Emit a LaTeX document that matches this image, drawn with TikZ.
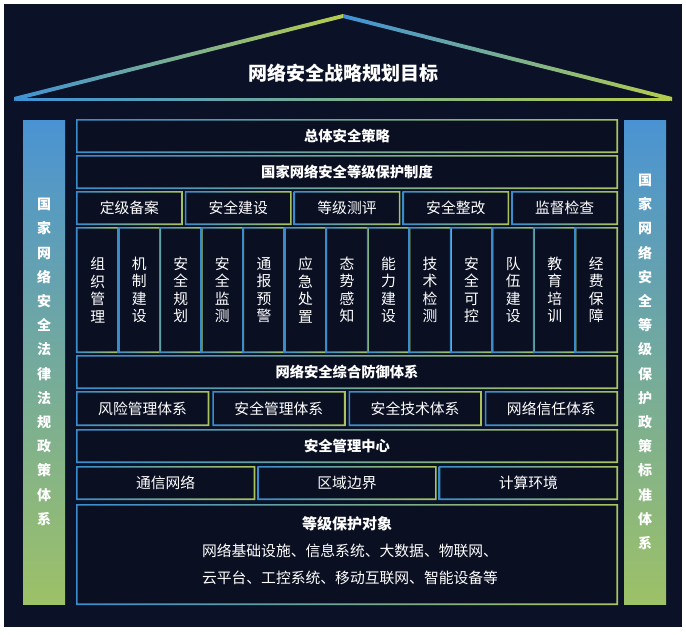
\documentclass[tikz,border=0pt]{standalone}
\usepackage{fontspec}
\setmainfont{Noto Sans CJK SC}
\definecolor{bg}{HTML}{0B1126}
\definecolor{boxfill}{HTML}{0A0F22}
\definecolor{bblue}{HTML}{3A8CCB}
\definecolor{bgreen}{HTML}{A8C35E}
\definecolor{ptop}{HTML}{4A93D3}
\definecolor{pbot}{HTML}{9DC167}
\definecolor{roofblue}{HTML}{3F92D6}
\definecolor{roofgreen}{HTML}{B5CC4C}
\newcommand\gring[1]{\shade[even odd rule,left color=bblue,right color=bgreen]
  ([shift={(-0.8pt,0.8pt)}]#1.north west) rectangle ([shift={(0.8pt,-0.8pt)}]#1.south east)
  ([shift={(0.8pt,-0.8pt)}]#1.north west) rectangle ([shift={(-0.8pt,0.8pt)}]#1.south east);}
\newcommand\bx[7]{\node[#1, minimum width={(#5)-(#3)}, minimum height={(#6)-(#4)}] (#2) at ({((#3)+(#5))/2},{((#4)+(#6))/2}) {#7};}
\begin{document}
\begin{tikzpicture}[x=1pt,y=-1pt,
  cell/.style={rectangle, inner sep=0pt, fill=boxfill, text=white, align=center,
    font=\fontsize{14.8}{17.5}\selectfont},
  headcell/.style={cell, font=\bfseries\fontsize{14.3}{17}\selectfont},
  pillar/.style={rectangle, inner sep=0pt, top color=ptop, bottom color=pbot,
    minimum width=42pt, minimum height=484pt, text=white, align=center,
    font=\bfseries\fontsize{14}{24.2}\selectfont},
  txt/.style={text=white, inner sep=0pt, align=center}]
\useasboundingbox (0,0) rectangle (686,635);
\fill[white] (0,0) rectangle (686,635);
\fill[bg] (4,4) rectangle (682,627);
% roof
\shade[left color=roofblue, right color=roofgreen] (14,97) -- (343,14) -- (343,18) -- (14,101) -- cycle;
\shade[left color=roofblue, right color=roofgreen] (343,14) -- (672,97) -- (672,101) -- (343,18) -- cycle;
\shade[left color=roofblue, middle color=roofblue!85!roofgreen, right color=roofgreen] (16,98) rectangle (670,100.2);
\node[txt, font=\bfseries\fontsize{19}{22}\selectfont] (goal) at (343,73) {网络安全战略规划目标};
% pillars
\node[pillar] (lp) at (44,362) {国\\家\\网\\络\\安\\全\\法\\律\\法\\规\\政\\策\\体\\系};
\node[pillar] (rp) at (645,362) {国\\家\\网\\络\\安\\全\\等\\级\\保\\护\\政\\策\\标\\准\\体\\系};
% rows
\bx{headcell}{r1}{77}{120}{617}{152}{总体安全策略}
\bx{headcell}{r2}{77}{156}{617}{188}{国家网络安全等级保护制度}
\bx{cell}{s1}{77}{192}{181.8}{224}{定级备案}
\bx{cell}{s2}{185.8}{192}{290.6}{224}{安全建设}
\bx{cell}{s3}{294.6}{192}{399.4}{224}{等级测评}
\bx{cell}{s4}{403.4}{192}{508.2}{224}{安全整改}
\bx{cell}{s5}{512.2}{192}{617}{224}{监督检查}
\foreach \t [count=\i from 0] in {组\\织\\管\\理,机\\制\\建\\设,安\\全\\规\\划,安\\全\\监\\测,通\\报\\预\\警,应\\急\\处\\置,态\\势\\感\\知,能\\力\\建\\设,技\\术\\检\\测,安\\全\\可\\控,队\\伍\\建\\设,教\\育\\培\\训,经\\费\\保\\障}{
  \node[cell, minimum width=41.54pt, minimum height=124pt] (c\i) at ({77+41.5385*(\i+0.5)},290) {\t};
}
\foreach \i in {0,...,12}{\gring{c\i}}
\bx{headcell}{r5}{77}{356}{617}{388}{网络安全综合防御体系}
\bx{cell}{f1}{77}{392}{208.25}{425}{风险管理体系}
\bx{cell}{f2}{213.25}{392}{344.5}{425}{安全管理体系}
\bx{cell}{f3}{349.5}{392}{480.75}{425}{安全技术体系}
\bx{cell}{f4}{485.75}{392}{617}{425}{网络信任体系}
\bx{headcell}{r7}{77}{430}{617}{462}{安全管理中心}
\bx{cell}{e1}{77}{467}{254.3}{499}{通信网络}
\bx{cell}{e2}{258.3}{467}{435.7}{499}{区域边界}
\bx{cell}{e3}{439.7}{467}{617}{499}{计算环境}
\bx{cell}{r9}{77}{505}{617}{604}{}
\foreach \n in {r1,r2,s1,s2,s3,s4,s5,r5,f1,f2,f3,f4,r7,e1,e2,e3,r9}{\gring{\n}}
\node[txt, font=\bfseries\fontsize{15}{18}\selectfont] (objt) at (347,524) {等级保护对象};
\node[txt, font=\fontsize{14.8}{18}\selectfont] (obj1) at (350,551) {网络基础设施、信息系统、大数据、物联网、};
\node[txt, font=\fontsize{14.8}{18}\selectfont] (obj2) at (350,578) {云平台、工控系统、移动互联网、智能设备等};
\end{tikzpicture}
\end{document}
